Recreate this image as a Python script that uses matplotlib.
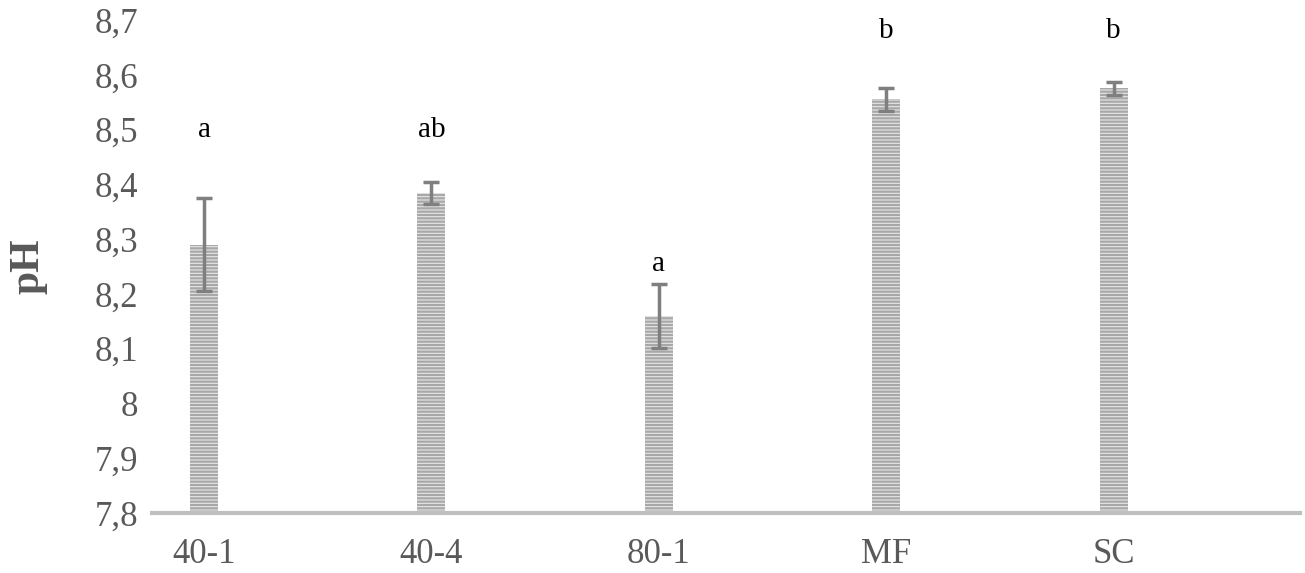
import numpy as np
import matplotlib.pyplot as plt

# data
samples = ['40-1', '40-4', '80-1', 'MF', 'SC']
ph = [8.29, 8.385, 8.16, 8.555, 8.575]
ph_err = [0.085, 0.02, 0.058, 0.021, 0.012]
letters = ['a', 'ab', 'a', 'b', 'b']
letter_y = [8.50, 8.50, 8.255, 8.68, 8.68]

plt.rcParams['font.family'] = ['Liberation Serif', 'DejaVu Serif']
plt.rcParams['hatch.color'] = '#a8a8a8'
plt.rcParams['hatch.linewidth'] = 1.6

fig = plt.figure(figsize=(13.05, 5.73), dpi=100)
ax = fig.add_axes([0.1165, 0.1047, 0.8797, 0.8604])

x = np.arange(len(samples))
ax.bar(x, np.array(ph) - 7.8, bottom=7.8, width=0.123, color='#e6e6e6',
       hatch='-----', edgecolor='#a8a8a8', linewidth=0)
ax.errorbar(x, ph, yerr=ph_err, fmt='none', ecolor='#7f7f7f', elinewidth=2.5,
            capsize=6, capthick=2.5)

for xi, t, yi in zip(x, letters, letter_y):
    ax.text(xi, yi, t, ha='center', va='center', fontsize=21, color='black')

ax.set_xlim(-0.229, 4.82)
ax.set_ylim(7.8, 8.7)
ax.set_yticks(np.arange(7.8, 8.71, 0.1))
ax.set_yticklabels(['7,8', '7,9', '8', '8,1', '8,2', '8,3', '8,4', '8,5', '8,6', '8,7'])
ax.set_xticks(x)
ax.set_xticklabels(samples)
ax.tick_params(axis='both', length=0, labelsize=25, colors='#595959')
ax.tick_params(axis='x', pad=18)
ax.tick_params(axis='y', pad=10)

for s in ['top', 'right', 'left']:
    ax.spines[s].set_visible(False)
ax.spines['bottom'].set_color('#bfbfbf')
ax.spines['bottom'].set_linewidth(3)

ax.set_ylabel('pH', fontsize=30, fontweight='bold', color='#595959', labelpad=34)

fig.savefig('out.png', dpi=100)
